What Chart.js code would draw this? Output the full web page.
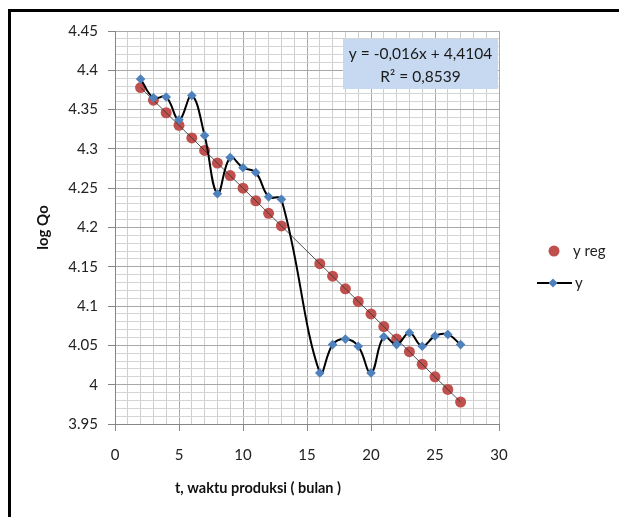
<!DOCTYPE html>
<html>
<head>
<meta charset="utf-8">
<script src="https://cdn.jsdelivr.net/npm/chart.js@4.4.1/dist/chart.umd.min.js"></script>
<style>
  html, body { margin: 0; padding: 0; background: #fff; }
  #wrap { position: relative; width: 619px; height: 517px; overflow: hidden; }
  #frame { position: absolute; left: 8px; top: 9px; right: -5px; bottom: -5px;
           border-left: 3px solid #000; border-top: 3px solid #000; pointer-events: none; }
  canvas { position: absolute; left: 0; top: 0; }
</style>
</head>
<body>
<div id="wrap">
  <canvas id="chart" width="619" height="517"></canvas>
  <div id="frame"></div>
</div>
<script>
/* ---------------- Data ---------------- */
const months = [2, 3, 4, 5, 6, 7, 8, 9, 10, 11, 12, 13, 16, 17, 18, 19, 20, 21, 22, 23, 24, 25, 26, 27];
const yActual = [4.389, 4.365, 4.366, 4.337, 4.368, 4.317, 4.243, 4.289, 4.276, 4.270, 4.239, 4.236,
                 4.015, 4.051, 4.058, 4.049, 4.015, 4.061, 4.051, 4.066, 4.049, 4.062, 4.064, 4.051];
const yReg = [4.378, 4.362, 4.346, 4.330, 4.314, 4.298, 4.282, 4.266, 4.250, 4.234, 4.218, 4.202,
              4.154, 4.138, 4.122, 4.106, 4.090, 4.074, 4.058, 4.042, 4.026, 4.010, 3.994, 3.978];
const trendX = [2, 27];
const trendY = [4.378, 3.978];
const seriesLabels = ['y reg', 'y'];
const eqLines = ['y = -0,016x + 4,4104', 'R\u00B2 = 0,8539'];
const xTitle = 't, waktu produksi ( bulan )';
const yTitle = 'log Qo';

const toPoints = (xs, ys) => xs.map((x, i) => ({ x: x, y: ys[i] }));

const FONT = 'Lato, Carlito, "Open Sans", sans-serif';
Chart.defaults.font.family = FONT;
Chart.defaults.color = '#222';

const redColor = '#c0504d';
const blueColor = '#4f81bd';

// major every 0.05 on y, every 5 on x
const isMajorY = v => Math.round(v * 100) % 5 === 0;
const isMajorX = v => Math.round(v) % 5 === 0;

/* ---------------- Equation box, x title, legend ---------------- */
const extrasPlugin = {
  id: 'extras',
  afterDraw(chart) {
    const ctx = chart.ctx;
    const area = chart.chartArea;
    ctx.save();

    // trendline label
    const boxW = 155, boxH = 50;
    const bx = area.right - boxW - 1, by = area.top + 8;
    ctx.fillStyle = '#c6d9f1';
    ctx.fillRect(bx, by, boxW, boxH);
    ctx.fillStyle = '#1a1a1a';
    ctx.font = '15.5px ' + FONT;
    ctx.textAlign = 'center';
    ctx.textBaseline = 'middle';
    ctx.fillText(eqLines[0], bx + boxW / 2, by + 15);
    ctx.fillText(eqLines[1], bx + boxW / 2, by + 38);

    // x axis title (Excel puts it left of the plot centre here)
    ctx.fillStyle = '#111';
    ctx.font = 'bold 14.5px ' + FONT;
    ctx.fillText(xTitle, 258, 488);

    // legend
    ctx.font = '15px ' + FONT;
    ctx.textAlign = 'left';
    ctx.fillStyle = redColor;
    ctx.beginPath();
    ctx.arc(554, 251, 5.5, 0, Math.PI * 2);
    ctx.fill();
    ctx.fillStyle = '#222';
    ctx.fillText(seriesLabels[0], 573, 251);

    ctx.strokeStyle = '#000';
    ctx.lineWidth = 2;
    ctx.beginPath();
    ctx.moveTo(537, 283);
    ctx.lineTo(572, 283);
    ctx.stroke();
    ctx.fillStyle = blueColor;
    ctx.beginPath();
    ctx.moveTo(553, 278.5);
    ctx.lineTo(557.5, 283);
    ctx.lineTo(553, 287.5);
    ctx.lineTo(548.5, 283);
    ctx.closePath();
    ctx.fill();
    ctx.fillStyle = '#222';
    ctx.fillText(seriesLabels[1], 575, 283);
    ctx.restore();
  }
};

/* ---------------- Chart ---------------- */
const ctx = document.getElementById('chart').getContext('2d');
const chart = new Chart(ctx, {
  type: 'scatter',
  data: {
    datasets: [
      {
        label: seriesLabels[1],
        data: toPoints(months, yActual),
        showLine: true,
        tension: 0.4,
        borderColor: '#000',
        borderWidth: 2,
        pointStyle: 'rectRot',
        pointRadius: 4.8,
        pointBackgroundColor: blueColor,
        pointBorderColor: blueColor,
        pointBorderWidth: 0,
        order: 0
      },
      {
        label: 'trend',
        data: toPoints(trendX, trendY),
        showLine: true,
        borderColor: 'rgba(50,50,50,0.85)',
        borderWidth: 1,
        pointRadius: 0,
        order: 1
      },
      {
        label: seriesLabels[0],
        data: toPoints(months, yReg),
        pointStyle: 'circle',
        pointRadius: 5.5,
        pointBackgroundColor: redColor,
        pointBorderColor: redColor,
        pointBorderWidth: 0,
        order: 2
      }
    ]
  },
  options: {
    responsive: false,
    animation: false,
    layout: { padding: { top: 31, right: 120, bottom: 0, left: 0 } },
    plugins: {
      legend: { display: false },
      tooltip: { enabled: false }
    },
    scales: {
      x: {
        type: 'linear',
        min: 0,
        max: 30,
        afterFit: s => { s.height = 93; },
        ticks: {
          stepSize: 1,
          autoSkip: false,
          maxRotation: 0,
          padding: 15,
          font: { size: 15 },
          callback: v => isMajorX(v) ? String(Math.round(v)) : ''
        },
        grid: {
          color: c => isMajorX(c.tick.value) ? '#a8a8a8' : '#cdcdcd',
          tickColor: c => isMajorX(c.tick.value) ? '#868686' : 'rgba(0,0,0,0)',
          tickLength: 7
        },
        border: { color: '#868686' },
        title: { display: false }
      },
      y: {
        type: 'linear',
        min: 3.95,
        max: 4.45,
        afterFit: s => { s.width = 115; },
        ticks: {
          stepSize: 0.01,
          maxTicksLimit: 100,
          autoSkip: false,
          padding: 10,
          font: { size: 15 },
          callback: v => isMajorY(v) ? String(+v.toFixed(2)) : ''
        },
        grid: {
          color: c => isMajorY(c.tick.value) ? '#a8a8a8' : '#d4d4d4',
          tickColor: c => isMajorY(c.tick.value) ? '#868686' : 'rgba(0,0,0,0)',
          tickLength: 7
        },
        border: { color: '#868686' },
        title: {
          display: true,
          text: yTitle,
          font: { size: 15, weight: 'bold' },
          color: '#111',
          padding: { top: 34, bottom: 0 }
        }
      }
    }
  },
  plugins: [extrasPlugin]
});
</script>
</body>
</html>
